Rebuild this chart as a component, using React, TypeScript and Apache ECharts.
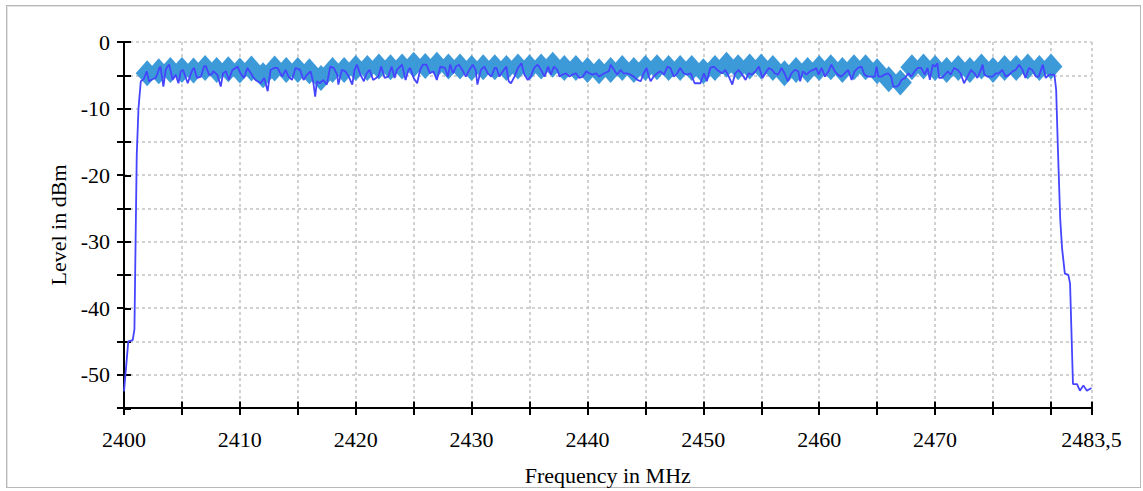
import React, { useEffect, useRef } from "react";
import * as echarts from "echarts";

// Bluetooth channel levels (diamond markers)
const channelFreqMHz = [
  2402, 2403, 2404, 2405, 2406, 2407, 2408, 2409, 2410, 2411, 2412, 2413, 2414, 2415, 2416, 2417,
  2418, 2419, 2420, 2421, 2422, 2423, 2424, 2425, 2426, 2427, 2428, 2429, 2430, 2431, 2432, 2433,
  2434, 2435, 2436, 2437, 2438, 2439, 2440, 2441, 2442, 2443, 2444, 2445, 2446, 2447, 2448, 2449,
  2450, 2451, 2452, 2453, 2454, 2455, 2456, 2457, 2458, 2459, 2460, 2461, 2462, 2463, 2464, 2465,
  2466, 2467, 2468, 2469, 2470, 2471, 2472, 2473, 2474, 2475, 2476, 2477, 2478, 2479, 2480,
];
const channelLevelDbm = [
  -4.7, -4.4, -4.2, -4.2, -4.3, -3.9, -4.2, -4.1, -4.3, -4.0, -5.0, -4.0, -4.2, -4.2, -4.4, -5.4,
  -4.2, -4.2, -3.9, -3.9, -3.7, -3.8, -3.7, -3.4, -3.6, -3.4, -3.7, -3.7, -3.9, -3.8, -3.8, -3.9,
  -3.7, -3.8, -3.7, -3.4, -3.9, -3.9, -4.2, -4.4, -4.2, -3.9, -4.2, -3.9, -3.8, -3.9, -3.9, -3.9,
  -4.4, -3.9, -3.4, -3.8, -3.7, -3.7, -3.9, -4.7, -4.2, -4.2, -3.9, -3.8, -4.2, -3.8, -3.8, -4.4,
  -5.6, -6.1, -3.8, -3.7, -3.9, -4.2, -3.9, -4.2, -3.7, -4.2, -3.9, -3.9, -3.7, -3.9, -3.7,
];

// Measured trace [MHz, dBm]
const riseEdge: [number, number][] = [
  [2400.0, -52.5], [2400.37, -45.0], [2400.75, -44.8], [2400.9, -43.2], [2401.0, -30],
  [2401.1, -17], [2401.25, -10], [2401.45, -5.9],
];
const band1: [number, number][] = [
  [2401.7, -5.6], [2401.96, -4.4], [2402.16, -5.9], [2402.45, -5.6], [2402.73, -5.4], [2402.9, -4.7],
  [2403.05, -3.9], [2403.15, -3.7], [2403.4, -6.7], [2403.6, -4.2], [2403.75, -3.7], [2403.9, -3.4],
  [2404.2, -5.7], [2404.45, -4.9], [2404.7, -6.2], [2404.9, -4.4], [2405.1, -4.2], [2405.5, -6.2],
  [2405.75, -4.9], [2405.9, -4.2], [2406.05, -3.9], [2406.3, -5.4], [2406.65, -5.2], [2406.9, -3.7],
  [2407.05, -3.6], [2407.35, -4.9], [2407.55, -4.9], [2407.7, -4.4], [2408.05, -4.9], [2408.35, -6.7],
  [2408.55, -4.7], [2408.8, -4.4], [2409.05, -5.7], [2409.35, -4.2], [2409.8, -3.7], [2410.05, -4.7],
  [2410.35, -5.4], [2410.65, -3.9], [2410.95, -4.7], [2411.2, -5.4], [2411.35, -5.7], [2411.8, -6.2],
  [2412.1, -5.4], [2412.4, -7.4], [2412.65, -4.2], [2412.95, -3.9], [2413.25, -3.9], [2413.65, -5.2],
  [2413.95, -4.2],
];
const band2: [number, number][] = [
  [2414.2, -5.2], [2414.5, -5.7], [2414.8, -3.9], [2415.2, -4.2], [2415.5, -5.7], [2415.8, -4.9],
  [2416.1, -4.4], [2416.35, -6.2], [2416.5, -8.2], [2416.65, -5.9], [2416.9, -6.2], [2417.2, -5.7],
  [2417.5, -6.4], [2417.8, -3.7], [2418.1, -3.9], [2418.4, -4.9], [2418.5, -6.4], [2418.8, -4.2],
  [2419.1, -4.4], [2419.4, -5.2], [2419.7, -6.4], [2419.9, -4.2], [2420.1, -3.4], [2420.4, -4.9],
  [2420.7, -5.9], [2420.95, -4.7], [2421.2, -4.2], [2421.5, -5.7], [2421.95, -5.2], [2422.2, -3.7],
  [2422.5, -5.4], [2422.8, -5.2], [2423.1, -3.7], [2423.35, -5.4], [2423.55, -4.2], [2424.0, -3.4],
  [2424.3, -5.7], [2424.55, -4.2], [2424.7, -3.9], [2425.0, -5.4], [2425.3, -6.2], [2425.55, -4.2],
  [2425.8, -3.4], [2426.1, -3.4], [2426.4, -4.7], [2426.7, -4.4], [2427.0, -5.7], [2427.3, -3.7],
  [2427.7, -3.9], [2427.95, -5.2], [2428.15, -3.4],
];
const band3: [number, number][] = [
  [2428.4, -4.7], [2428.65, -3.7], [2428.9, -3.4], [2429.2, -4.2], [2429.5, -5.2], [2429.8, -4.2],
  [2430.1, -3.4], [2430.35, -4.2], [2430.5, -6.4], [2430.8, -4.2], [2431.1, -3.7], [2431.4, -4.7],
  [2431.7, -5.2], [2432.0, -3.9], [2432.15, -3.9], [2432.4, -5.2], [2432.7, -4.4], [2433.0, -3.7],
  [2433.2, -5.9], [2433.4, -6.2], [2433.7, -5.2], [2434.0, -3.9], [2434.3, -3.2], [2434.55, -4.9],
  [2434.85, -5.7], [2435.1, -5.2], [2435.4, -3.9], [2435.7, -3.4], [2436.0, -4.2], [2436.3, -5.2],
  [2436.6, -3.7], [2436.85, -4.9], [2437.1, -3.7], [2437.4, -4.2], [2437.6, -5.2], [2437.85, -4.9],
  [2438.15, -4.7], [2438.45, -5.2], [2438.7, -4.9], [2439.0, -4.7], [2439.3, -5.4], [2439.6, -5.2],
  [2439.9, -4.4], [2440.15, -4.7], [2440.45, -4.9], [2440.75, -4.7], [2441.0, -5.2], [2441.45, -4.7],
  [2441.85, -4.4],
];
const band4: [number, number][] = [
  [2442.0, -3.4], [2442.3, -4.2], [2442.55, -4.9], [2442.85, -4.2], [2443.1, -4.7], [2443.4, -4.7],
  [2443.7, -4.9], [2444.0, -5.2], [2444.3, -5.7], [2444.6, -5.9], [2444.85, -4.7], [2445.1, -3.9],
  [2445.3, -5.2], [2445.45, -5.9], [2445.7, -5.2], [2446.0, -4.7], [2446.3, -4.4], [2446.6, -4.9],
  [2446.9, -3.7], [2447.15, -3.9], [2447.45, -5.2], [2447.75, -4.7], [2448.0, -3.9], [2448.3, -4.7],
  [2448.6, -4.9], [2448.9, -4.7], [2449.25, -6.2], [2449.5, -6.2], [2449.75, -6.2], [2450.05, -4.7],
  [2450.3, -5.9], [2450.6, -3.9], [2450.9, -3.7], [2451.2, -4.2], [2451.6, -4.7], [2451.9, -4.2],
  [2452.2, -5.2], [2452.5, -6.4], [2452.75, -4.7], [2453.05, -4.2], [2453.35, -4.9], [2453.65, -5.7],
  [2453.9, -4.7], [2454.2, -4.9], [2454.5, -4.4], [2454.8, -3.7], [2455.1, -5.4], [2455.35, -4.7],
  [2455.65, -3.9],
];
const band5: [number, number][] = [
  [2455.95, -4.2], [2456.15, -4.7], [2456.45, -4.9], [2456.75, -3.9], [2457.0, -4.7], [2457.3, -5.9],
  [2457.6, -4.7], [2457.9, -4.2], [2458.2, -4.4], [2458.35, -5.9], [2458.6, -4.4], [2458.9, -4.9],
  [2459.2, -4.4], [2459.5, -4.2], [2459.75, -3.9], [2459.95, -4.9], [2460.2, -3.9], [2460.5, -5.2],
  [2460.8, -4.4], [2461.05, -3.4], [2461.35, -4.4], [2461.6, -4.9], [2461.9, -5.2], [2462.2, -4.7],
  [2462.5, -4.2], [2462.8, -5.7], [2463.05, -4.4], [2463.35, -3.9], [2463.65, -3.7], [2463.9, -4.9],
  [2464.2, -5.2], [2464.5, -5.2], [2464.8, -5.2], [2464.95, -3.7], [2465.1, -5.2], [2465.4, -5.2],
  [2465.65, -4.9], [2465.95, -4.7], [2466.2, -5.2], [2466.4, -6.7], [2466.7, -6.7], [2466.9, -6.4],
  [2467.1, -5.7], [2467.4, -5.4], [2467.7, -4.7], [2467.95, -5.2], [2468.25, -4.4], [2468.5, -3.9],
  [2468.8, -3.9], [2469.1, -4.9], [2469.35, -3.9],
];
const band6: [number, number][] = [
  [2469.55, -5.7], [2469.8, -3.4], [2470.0, -3.7], [2470.2, -3.2], [2470.35, -5.4], [2470.6, -5.4],
  [2471.1, -4.4], [2471.35, -4.9], [2471.65, -3.9], [2471.95, -4.2], [2472.2, -4.7], [2472.5, -6.2],
  [2472.8, -5.2], [2473.1, -4.2], [2473.4, -4.7], [2473.65, -5.4], [2473.95, -4.2], [2474.1, -3.4],
  [2474.25, -4.9], [2474.5, -5.2], [2474.95, -5.2], [2475.25, -4.7], [2475.5, -4.7], [2475.8, -4.2],
  [2476.1, -5.2], [2476.4, -4.9], [2476.7, -4.4], [2476.95, -4.2], [2477.25, -3.4], [2477.55, -4.2],
  [2477.8, -5.4], [2478.1, -3.9], [2478.4, -4.2], [2478.7, -5.2], [2478.95, -5.2], [2479.3, -3.4],
  [2479.55, -5.4], [2479.85, -4.9], [2480.1, -4.9], [2480.3, -4.9],
];
const fallEdge: [number, number][] = [
  [2480.45, -7.2], [2480.6, -16], [2480.8, -26.6], [2480.96, -31], [2481.2, -34.8], [2481.5, -35],
  [2481.65, -36.3], [2481.9, -51.4], [2482.25, -51.4], [2482.5, -52.4], [2482.8, -51.6],
  [2483.1, -52.4], [2483.5, -52],
];

const xMin = 2400;
const xMax = 2483.5;
const yMin = -55;
const yMax = 0;

const FONT = '"Liberation Serif", "Times New Roman", serif';

export default function App() {
  const ref = useRef<HTMLDivElement>(null);

  useEffect(() => {
    if (!ref.current) return;
    const chart = echarts.init(ref.current, undefined, { renderer: "svg" });
    const trace = [...riseEdge, ...band1, ...band2, ...band3, ...band4, ...band5, ...band6, ...fallEdge];
    const channels = channelFreqMHz.map((f, i) => [f, channelLevelDbm[i]]);

    const gridBox = { left: 124, top: 42, right: 51.5, bottom: 82.5, containLabel: false };
    const dash = { color: "#c2c2c2", type: [3, 3] as any, width: 1.5 };
    const axisLineStyle = { color: "#000", width: 2 };

    chart.setOption({
      animation: false,
      backgroundColor: "transparent",
      textStyle: { fontFamily: FONT },
      grid: [gridBox, gridBox],
      xAxis: [
        {
          type: "value",
          gridIndex: 0,
          min: xMin,
          max: xMax,
          interval: 5,
          position: "bottom",
          axisLine: { show: true, onZero: false, lineStyle: axisLineStyle },
          axisTick: { show: true, inside: false, length: 7, lineStyle: { color: "#000", width: 2 } },
          axisLabel: {
            show: true,
            margin: 20,
            fontSize: 22,
            fontFamily: FONT,
            color: "#000",
            showMinLabel: true,
            showMaxLabel: true,
            formatter: (v: number) =>
              v === xMax ? "2483,5" : v % 10 === 0 && v < 2480 ? String(v) : "",
          },
          splitLine: { show: true, lineStyle: dash },
          name: "Frequency in MHz",
          nameLocation: "middle",
          nameGap: 56,
          nameTextStyle: { fontSize: 22, fontFamily: FONT, color: "#000" },
        },
        {
          type: "value",
          gridIndex: 1,
          min: xMin,
          max: xMax,
          interval: 5,
          position: "bottom",
          axisLine: { show: false, onZero: false },
          axisTick: { show: true, inside: true, length: 7, lineStyle: { color: "#000", width: 2 } },
          axisLabel: { show: false },
          splitLine: { show: false },
        },
      ],
      yAxis: [
        {
          type: "value",
          gridIndex: 0,
          min: yMin,
          max: yMax,
          interval: 5,
          position: "left",
          axisLine: { show: true, onZero: false, lineStyle: axisLineStyle },
          axisTick: { show: true, inside: false, length: 7, lineStyle: { color: "#000", width: 2 } },
          axisLabel: {
            show: true,
            margin: 14,
            fontSize: 22,
            fontFamily: FONT,
            color: "#000",
            formatter: (v: number) => (v % 10 === 0 ? String(v) : ""),
          },
          splitLine: { show: true, lineStyle: dash },
          name: "Level in dBm",
          nameLocation: "middle",
          nameGap: 53,
          nameTextStyle: { fontSize: 22, fontFamily: FONT, color: "#000" },
        },
        {
          type: "value",
          gridIndex: 1,
          min: yMin,
          max: yMax,
          interval: 5,
          position: "left",
          axisLine: { show: false, onZero: false },
          axisTick: { show: true, inside: true, length: 7, lineStyle: { color: "#000", width: 2 } },
          axisLabel: { show: false },
          splitLine: { show: false },
        },
      ],
      series: [
        {
          type: "scatter",
          xAxisIndex: 0,
          yAxisIndex: 0,
          data: channels,
          symbol: "diamond",
          symbolSize: [23, 26],
          itemStyle: { color: "#3d9ad9", opacity: 1 },
          silent: true,
          z: 2,
        },
        {
          type: "line",
          xAxisIndex: 0,
          yAxisIndex: 0,
          data: trace,
          showSymbol: false,
          symbol: "none",
          lineStyle: { color: "#4545ff", width: 1.8 },
          silent: true,
          z: 3,
        },
      ],
    });
    return () => chart.dispose();
  }, []);

  return (
    <div style={{ position: "fixed", left: 0, top: 0, width: 1143, height: 491, background: "#fff" }}>
      <div
        style={{
          position: "absolute",
          left: 6,
          top: 5,
          width: 1135,
          height: 483,
          boxSizing: "border-box",
          border: "1px solid #b8b8b8",
          boxShadow: "inset 1px 1px 0 #e4e4e4",
        }}
      />
      <div ref={ref} style={{ position: "absolute", left: 0, top: 0, width: 1143, height: 491 }} />
    </div>
  );
}
